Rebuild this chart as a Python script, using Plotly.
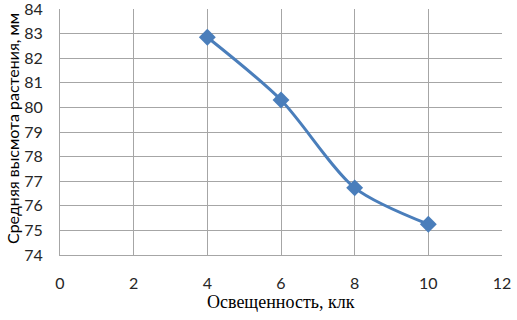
import plotly.graph_objects as go

x_vals = [4, 6, 8, 10]
y_vals = [82.85, 80.3, 76.73, 75.25]
x_title = "Освещенность, клк"
y_title = "Средняя высмота растения, мм"

fig = go.Figure()
fig.add_trace(go.Scatter(
    x=x_vals, y=y_vals, mode="lines+markers",
    line=dict(color="#4a7ebb", width=3, shape="spline", smoothing=0.8),
    marker=dict(symbol="diamond", size=13, color="#4a7ebb"),
    showlegend=False,
))

grid = "#a6a6a6"
L, R, T, B = 60, 15, 9, 65
W, H = 517, 320
pw, ph = W - L - R, H - T - B
fig.update_layout(
    width=W, height=H,
    margin=dict(l=L, r=R, t=T, b=B, autoexpand=False),
    paper_bgcolor="white", plot_bgcolor="white",
    font=dict(family="Lato, sans-serif", size=16, color="#262626"),
)
fig.update_xaxes(
    range=[0, 12], tick0=0, dtick=2, showgrid=True, gridcolor=grid, gridwidth=1,
    showline=True, linecolor=grid, linewidth=1, zeroline=False,
    ticks="", ticklabelstandoff=14, automargin=False, ticklabeloverflow="allow",
    tickfont=dict(family="Lato, sans-serif", size=16, color="#262626"),
)
fig.update_yaxes(
    range=[74, 84], tick0=74, dtick=1, showgrid=True, gridcolor=grid, gridwidth=1,
    showline=True, linecolor=grid, linewidth=1, zeroline=False,
    ticks="", ticklabelstandoff=13, automargin=False, ticklabeloverflow="allow",
    tickfont=dict(family="Lato, sans-serif", size=16, color="#262626"),
)
fig.add_annotation(
    text=x_title, xref="paper", yref="paper", x=0.5, y=-(302 - (T + ph)) / ph,
    xanchor="center", yanchor="middle", showarrow=False,
    font=dict(family="Liberation Serif, serif", size=18, color="#000000"),
)
fig.add_annotation(
    text=y_title, xref="paper", yref="paper", x=(12 - L) / pw, y=(T + ph - 129) / ph,
    xanchor="center", yanchor="middle", textangle=-90, showarrow=False,
    font=dict(family="Lato, sans-serif", size=16, color="#000000"),
)
fig.write_html(
    "out.html",
    config={"displayModeBar": False},
    post_script="document.body.style.margin='0';document.body.style.padding='0';",
)
